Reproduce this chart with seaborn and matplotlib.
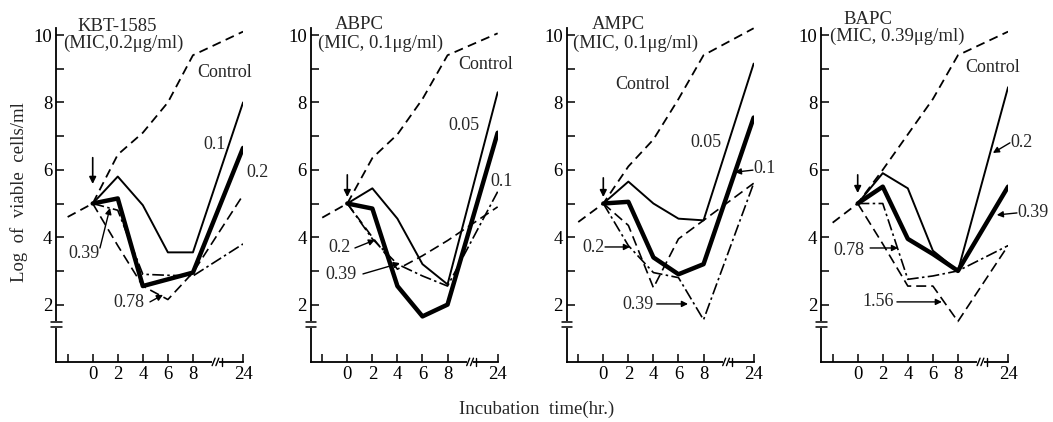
import numpy as np
import pandas as pd
import matplotlib
matplotlib.use('Agg')
import matplotlib.pyplot as plt
import seaborn as sns

sns.set_style('white')
plt.rcParams['font.family'] = ['Liberation Serif', 'DejaVu Serif']

# ---------------- data ----------------
times = [0, 2, 4, 6, 8, 24]
control_times = [-2, 0, 2, 4, 6, 8, 24]
x_tick_values = [-2, 0, 2, 4, 6, 8, 24]
x_tick_labels = ['', '0', '2', '4', '6', '8', '24']
y_tick_values = [2, 3, 4, 5, 6, 7, 8, 9, 10]
y_tick_labels = ['2', '', '4', '', '6', '', '8', '', '10']

drugs = ['KBT-1585', 'ABPC', 'AMPC', 'BAPC']
mic_labels = ['(MIC,0.2μg/ml)', '(MIC, 0.1μg/ml)', '(MIC, 0.1μg/ml)', '(MIC, 0.39μg/ml)']

kbt_control = [4.6, 5.0, 6.45, 7.1, 8.0, 9.4, 10.1]
kbt_0_1 = [5.0, 5.8, 4.95, 3.55, 3.55, 8.0]
kbt_0_2 = [5.0, 5.15, 2.55, 2.75, 2.95, 6.65]
kbt_0_39 = [5.0, 4.8, 2.9, 2.87, 2.85, 3.8]
kbt_0_78 = [5.0, 3.75, 2.55, 2.15, 2.95, 5.25]

abpc_control = [4.58, 5.0, 6.35, 7.05, 8.1, 9.4, 10.05]
abpc_0_05 = [5.0, 5.45, 4.55, 3.2, 2.6, 8.3]
abpc_0_1 = [5.0, 4.85, 2.55, 1.65, 2.0, 7.1]
abpc_0_2 = [5.0, 3.95, 3.2, 2.85, 2.55, 5.35]
abpc_0_39 = [5.0, 4.0, 3.05, 3.45, 3.9, 4.9]

ampc_control = [4.45, 5.0, 6.1, 6.9, 8.1, 9.4, 10.2]
ampc_0_05 = [5.0, 5.65, 5.0, 4.55, 4.5, 9.15]
ampc_0_1 = [5.0, 5.05, 3.4, 2.9, 3.2, 7.55]
ampc_0_2 = [5.0, 4.35, 2.5, 3.95, 4.5, 5.6]
ampc_0_39 = [5.0, 3.75, 2.95, 2.8, 1.55, 5.6]

bapc_control = [4.43, 5.0, 6.0, 7.05, 8.1, 9.4, 10.1]
bapc_0_2 = [5.0, 5.9, 5.45, 3.6, 3.0, 8.45]
bapc_0_39 = [5.0, 5.5, 3.95, 3.5, 3.0, 5.5]
bapc_0_78 = [5.0, 5.0, 2.75, 2.85, 3.0, 3.75]
bapc_1_56 = [5.0, 3.8, 2.55, 2.55, 1.5, 3.75]

controls = [kbt_control, abpc_control, ampc_control, bapc_control]
series = [
    [(kbt_0_1, 'thin'), (kbt_0_2, 'thick'), (kbt_0_39, 'dashdot'), (kbt_0_78, 'dashed')],
    [(abpc_0_05, 'thin'), (abpc_0_1, 'thick'), (abpc_0_2, 'dashdot'), (abpc_0_39, 'dashed')],
    [(ampc_0_05, 'thin'), (ampc_0_1, 'thick'), (ampc_0_2, 'dashed'), (ampc_0_39, 'dashdot')],
    [(bapc_0_2, 'thin'), (bapc_0_39, 'thick'), (bapc_0_78, 'dashdot'), (bapc_1_56, 'dashed')],
]

styles = {
    'control': dict(linewidth=1.3, linestyle=(0, (5, 3))),
    'thin': dict(linewidth=1.4, linestyle='-'),
    'thick': dict(linewidth=3.2, linestyle='-'),
    'dashdot': dict(linewidth=1.2, linestyle=(0, (7, 2, 1.5, 2))),
    'dashed': dict(linewidth=1.2, linestyle=(0, (6, 3))),
}

# ---------------- layout ----------------
W, Hh = 1053, 422
PX = 12.53           # px per forward unit (x)
XL, XR = -2.9, 12.0  # forward x-limits
YL, YT = 0.3, 10.4
zero_px = [92.7, 347.3, 603.3, 857.7]


def fwd(x):
    x = np.asarray(x, dtype=float)
    return np.where(x <= 8, x, 8 + (x - 8) / 4.0)


def inv(f):
    f = np.asarray(f, dtype=float)
    return np.where(f <= 8, f, 8 + (f - 8) * 4.0)


def H(f):
    return float(inv(f))


# annotations per panel: (text, fwd x, y, arrow_from(fx, y) or None, arrow_to)
annots = [
    [('Control', 8.32, 8.9, None, None),
     ('0.1', 8.8, 6.74, None, None),
     ('0.2', 12.3, 5.93, None, None),
     ('0.39', -1.97, 3.53, (0.58, 3.68), (1.38, 4.87)),
     ('0.78', 1.62, 2.05, (4.57, 2.08), (5.61, 2.29))],
    [('Control', 8.83, 9.11, None, None),
     ('0.05', 8.03, 7.3, None, None),
     ('0.1', 11.39, 5.64, None, None),
     ('0.2', -1.54, 3.68, (0.61, 3.68), (2.21, 3.92)),
     ('0.39', -1.78, 2.88, (1.25, 2.91), (4.2, 3.23))],
    [('Control', 0.93, 8.52, None, None),
     ('0.05', 6.92, 6.82, None, None),
     ('0.1', 11.94, 6.05, (11.94, 5.99), (10.5, 5.93)),
     ('0.2', -1.7, 3.68, (0.14, 3.71), (2.13, 3.71)),
     ('0.39', 1.49, 1.99, (4.26, 2.02), (6.76, 2.02))],
    [('Control', 8.56, 9.05, None, None),
     ('0.2', 12.15, 6.82, (12.15, 6.8), (10.79, 6.5)),
     ('0.39', 12.71, 4.72, (12.71, 4.72), (11.1, 4.66)),
     ('0.78', -1.97, 3.62, (0.99, 3.68), (3.22, 3.68)),
     ('1.56', 0.34, 2.08, (3.13, 2.08), (6.72, 2.08))],
]
title_pos = [(-1.25, 10.26, -2.37, 9.76), (-0.98, 10.3, -2.34, 9.76),
             (-0.9, 10.3, -2.42, 9.76), (-1.17, 10.45, -2.21, 9.95)]
drop_arrow = [(6.36, 5.58), (5.85, 5.19), (5.76, 5.19), (5.85, 5.31)]

fig = plt.figure(figsize=(W / 100, Hh / 100), dpi=100)
ax_w = (XR - XL) * PX
y_px_per = 33.7
ax_h = (YT - YL) * y_px_per
bottom_px = Hh - (35 + (10 - YL) * y_px_per)

for i in range(4):
    left_px = zero_px[i] + XL * PX
    ax = fig.add_axes([left_px / W, bottom_px / Hh, ax_w / W, ax_h / Hh])
    ax.set_facecolor('none')

    sns.lineplot(x=control_times, y=controls[i], ax=ax, color='black',
                 legend=False, estimator=None, sort=False, **styles['control'])
    for vals, st in series[i]:
        sns.lineplot(x=times, y=vals, ax=ax, color='black', legend=False,
                     estimator=None, sort=False, **styles[st])

    ax.set_xscale('function', functions=(fwd, inv))
    ax.set_xlim(H(XL), H(XR))
    ax.set_ylim(YL, YT)
    ax.set_xticks(x_tick_values, labels=x_tick_labels)
    ax.set_yticks(y_tick_values, labels=y_tick_labels)
    ax.minorticks_off()
    ax.tick_params(direction='in', length=6, width=1.1, labelsize=13.5, pad=3,
                   colors='black', left=True, bottom=True)
    ax.set_xlabel('')
    ax.set_ylabel('')
    for s in ['top', 'right']:
        ax.spines[s].set_visible(False)
    for s in ['left', 'bottom']:
        ax.spines[s].set_color('black')
        ax.spines[s].set_linewidth(1.3)
    ax.spines['left'].set_bounds(YL, 10.2)

    # y-axis break marks
    tb = ax.get_yaxis_transform()
    ax.plot([0, 0], [1.36, 1.46], transform=tb, color='white', lw=3,
            clip_on=False, zorder=5)
    for yy in (1.34, 1.48):
        ax.plot([-0.028, 0.028], [yy, yy], transform=tb, color='black',
                lw=1.1, clip_on=False, zorder=6)
    # x-axis break marks
    ta = ax.transAxes
    a1 = (9.65 - XL) / (XR - XL)
    a2 = (9.95 - XL) / (XR - XL)
    a3 = (10.3 - XL) / (XR - XL)
    ax.plot([a1 + 0.004, a2 - 0.004], [0, 0], transform=ta, color='white',
            lw=3, clip_on=False, zorder=5)
    for a in (a1, a2):
        ax.plot([a - 0.008, a + 0.008], [-0.011, 0.011], transform=ta,
                color='black', lw=1.0, clip_on=False, zorder=6)
    ax.plot([a3, a3], [-0.011, 0.011], transform=ta, color='black', lw=1.0,
            clip_on=False, zorder=6)

    # titles
    tx1, ty1, tx2, ty2 = title_pos[i]
    ax.text(H(tx1), ty1, drugs[i], fontsize=13.5, ha='left', va='center')
    ax.text(H(tx2), ty2, mic_labels[i], fontsize=13.5, ha='left', va='center')

    # labels and arrows
    for txt, fx, yy, afrom, ato in annots[i]:
        ax.text(H(fx), yy, txt, fontsize=13, ha='left', va='center')
        if afrom is not None:
            ax.annotate('', xy=(H(ato[0]), ato[1]), xytext=(H(afrom[0]), afrom[1]),
                        arrowprops=dict(arrowstyle='-|>', color='black', lw=1.0,
                                        mutation_scale=9, shrinkA=0, shrinkB=0),
                        annotation_clip=False)
    y0, y1 = drop_arrow[i]
    ax.annotate('', xy=(0, y1), xytext=(0, y0),
                arrowprops=dict(arrowstyle='-|>', color='black', lw=1.2,
                                mutation_scale=10, shrinkA=0, shrinkB=0),
                annotation_clip=False)

fig.text(0.018, 1 - 192 / Hh, 'Log  of  viable  cells/ml', rotation=90,
         ha='center', va='center', fontsize=13.5)
fig.text(537 / W, 1 - 409 / Hh, 'Incubation  time(hr.)', ha='center',
         va='center', fontsize=13.5)

fig.savefig('out.png', dpi=100, facecolor='white')
